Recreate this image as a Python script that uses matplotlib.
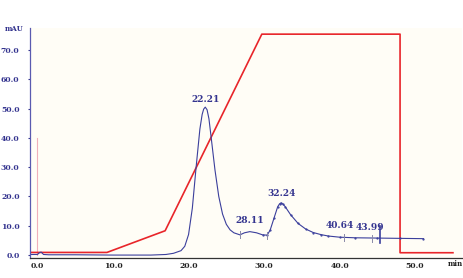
import numpy as np
import matplotlib.pyplot as plt

# chromatogram trace (min, mAU)
trace_t = [-1.0, 0.0, 0.3, 0.5, 0.8, 1.5, 5.0, 10.0, 15.0, 17.0, 18.0, 19.0, 19.5, 20.0,
           20.5, 21.0, 21.5, 21.8, 22.0, 22.21, 22.45, 22.7, 23.0, 23.5, 24.0, 24.5, 25.0, 25.5,
           26.0, 26.8, 27.4, 28.11, 29.0, 29.8, 30.4, 30.8, 31.3, 31.8, 32.05, 32.24, 32.5, 32.8,
           33.5, 34.5, 35.5, 36.5, 37.5, 38.5, 40.0, 42.0, 45.0, 48.0, 51.1]
trace_v = [0.2, 0.2, 0.9, 1.0, 0.2, 0.1, 0.1, 0.0, 0.0, 0.2, 0.6, 1.5, 3.0, 7.0,
           16.0, 30.0, 43.0, 48.0, 49.8, 50.5, 49.6, 46.5, 40.0, 29.0, 20.0, 14.0, 10.5, 8.6,
           7.6, 6.9, 7.6, 8.0, 7.6, 6.9, 6.8, 8.5, 12.5, 16.5, 17.5, 17.8, 17.4, 16.5,
           13.8, 10.8, 8.9, 7.7, 7.0, 6.5, 6.1, 5.9, 5.8, 5.7, 5.6]

# gradient programme
grad_t = [-1.0, 9.2, 16.9, 29.7, 48.0, 48.0, 55.0]
grad_v = [0.9, 0.9, 8.3, 75.4, 75.4, 0.8, 0.8]

peak_labels = ['22.21', '28.11', '32.24', '40.64', '43.99']
peak_t = [22.21, 28.11, 32.24, 40.64, 43.99]
peak_v = [50.5, 8.0, 17.8, 6.1, 5.8]
label_dx = [0.0, 0.0, 0.0, -0.6, 0.0]
label_dy = [1.2, 2.2, 1.6, 2.6, 2.0]

# integration marks
mark_t = [26.8, 30.4, 40.64, 44.3]
mark_v = [6.9, 6.8, 6.1, 5.8]

xticks = [0, 10, 20, 30, 40, 50]
yticks = [0, 10, 20, 30, 40, 50, 60, 70]

navy = '#34348f'
serif = ['DejaVu Serif']

fig = plt.figure(figsize=(4.64, 2.78), dpi=100)
fig.patch.set_facecolor('white')
ax = fig.add_axes([30 / 464, 20 / 278, 432 / 464, 230 / 278])
ax.set_facecolor('#fffdf6')

ax.set_xlim(-0.99, 56.2)
ax.set_ylim(-1.0, 77.5)

# injection marker
ax.plot([0, 0], [0, 40], color='#f0b0ba', lw=0.8)

ax.plot(grad_t, grad_v, color='#e8252a', lw=1.2)
ax.plot(trace_t, trace_v, color='#3b3f9c', lw=0.8)
ax.plot(trace_t[-20:], trace_v[-20:], ls='none', marker='.', ms=1.2, color='#3b3f9c')

for t, v in zip(mark_t, mark_v):
    ax.plot([t, t], [v - 1.2, v + 1.2], color='#8a8aa8', lw=0.7)
ax.plot([45.4, 45.4], [4.0, 10.0], color='#3b3f9c', lw=1.2)

for lab, t, v, dx, dy in zip(peak_labels, peak_t, peak_v, label_dx, label_dy):
    ax.text(t + dx, v + dy, lab, ha='center', va='bottom', fontsize=6.5,
            fontweight='bold', color=navy, family=serif)

ax.set_xticks(xticks)
ax.set_xticklabels([f'{x:.1f}' for x in xticks], fontsize=5.5, fontweight='bold',
                   color='#222222', family=serif)
ax.set_yticks(yticks)
ax.set_yticklabels([f'{y:.1f}' for y in yticks], fontsize=5.5, fontweight='bold',
                   color=navy, family=serif)
ax.tick_params(axis='x', length=0, pad=3)
ax.tick_params(axis='y', length=1.5, direction='out', color=navy, pad=6)

for s in ['top', 'right']:
    ax.spines[s].set_visible(False)
ax.spines['left'].set_color('#5a5ab0')
ax.spines['bottom'].set_color('#333333')
ax.spines['left'].set_linewidth(0.9)
ax.spines['bottom'].set_linewidth(0.9)

fig.text(14 / 464, 1 - 29 / 278, 'mAU', fontsize=5.0, fontweight='bold', color=navy,
         family=serif, ha='center', va='center')
fig.text(455 / 464, 1 - 264 / 278, 'min', fontsize=5.0, fontweight='bold', color='#222222',
         family=serif, ha='center', va='center')

plt.savefig('out.png', dpi=100)
